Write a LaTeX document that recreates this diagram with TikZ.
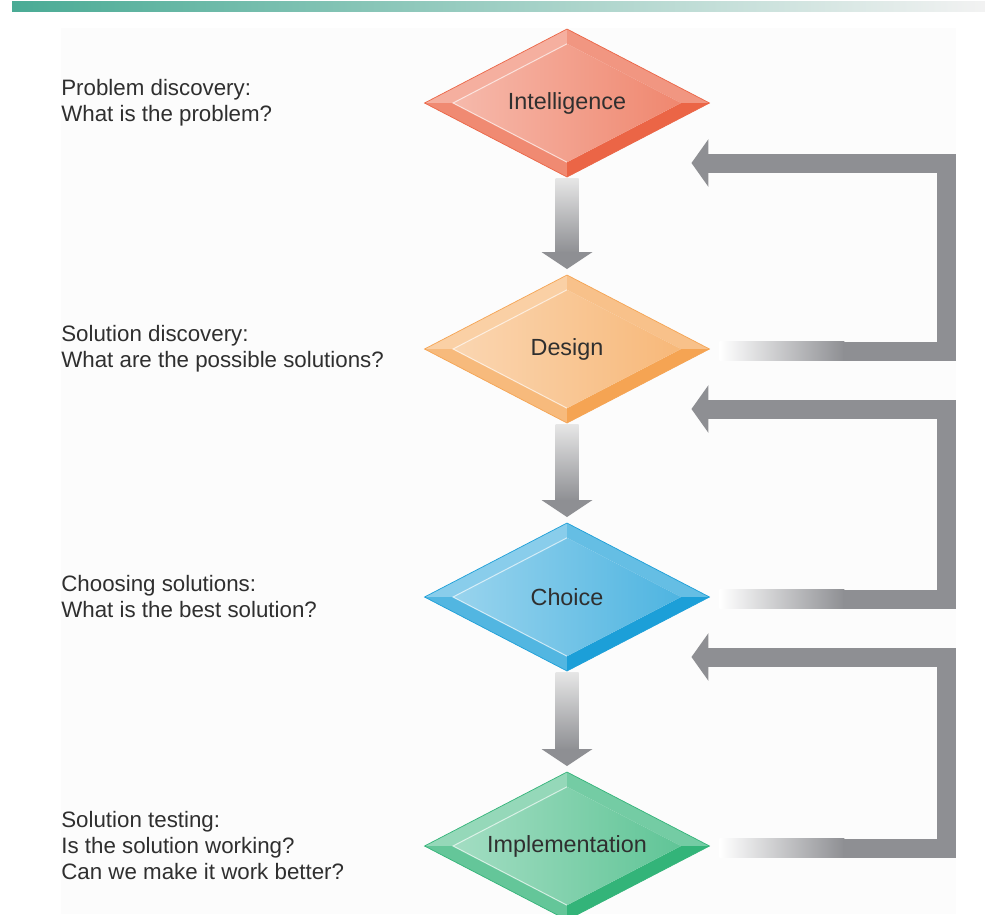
\documentclass[tikz,border=0pt]{standalone}
\usepackage{fontspec}
\setmainfont{Liberation Sans}
\usepackage{xcolor}
\usepackage{tikz}
\usetikzlibrary{positioning, shapes, calc, arrows.meta, backgrounds}

\definecolor{intelred}{HTML}{EB6546}
\definecolor{designorange}{HTML}{F5A453}
\definecolor{choiceblue}{HTML}{1C9FD8}
\definecolor{implgreen}{HTML}{33B479}
\definecolor{flowgray}{HTML}{8E8F93}
\definecolor{bargreen}{HTML}{4AAB95}
\definecolor{textgray}{HTML}{2F2F2F}

\tikzset{
  phase/.style={diamond, shape aspect=1.9, minimum width=5.7cm, minimum height=2.96cm,
    inner sep=0pt, outer sep=0pt, line width=0.4pt, text=textgray,
    font=\fontsize{13.3pt}{16pt}\selectfont},
  note/.style={anchor=west, align=left, inner sep=0pt, text=textgray,
    font=\fontsize{12.7pt}{14.8pt}\selectfont},
  backline/.style={draw=flowgray, line width=0.38cm, line join=miter,
    -{Triangle[length=0.34cm, width=0.94cm]}}
}

\begin{document}
\begin{tikzpicture}[x=0.02cm, y=-0.02cm]
  \useasboundingbox (0,0) rectangle (985,914);

  % Page background and title bar
  \begin{scope}[on background layer]
    \fill[black!1] (61,28) rectangle (956,914);
    \shade[left color=bargreen, right color=black!5] (12,1) rectangle (985,11);
  \end{scope}

  % Phases with their questions
  \foreach \nm/\lbl/\cy/\base/\txt in {
      intel/Intelligence/103/intelred/{Problem discovery:\\What is the problem?},
      design/Design/349/designorange/{Solution discovery:\\What are the possible solutions?},
      choice/Choice/597/choiceblue/{Choosing solutions:\\What is the best solution?},
      impl/Implementation/846/implgreen/{Solution testing:\\Is the solution working?\\Can we make it work better?}} {
    \node[phase, draw=\base] (\nm) at (567,\cy) {\lbl};
    \node[note] (\nm-q) at (61,\cy) {\txt};

    % bevel
    \coordinate (\nm-n) at ($(\nm.center)!0.8!(\nm.north)$);
    \coordinate (\nm-e) at ($(\nm.center)!0.8!(\nm.east)$);
    \coordinate (\nm-s) at ($(\nm.center)!0.8!(\nm.south)$);
    \coordinate (\nm-w) at ($(\nm.center)!0.8!(\nm.west)$);
    \begin{scope}[on background layer]
      \fill[\base!52!white] (\nm.west) -- (\nm.north) -- (\nm-n) -- (\nm-w) -- cycle;
      \fill[\base!68!white] (\nm.north) -- (\nm.east) -- (\nm-e) -- (\nm-n) -- cycle;
      \fill[\base!76!white] (\nm.west) -- (\nm.south) -- (\nm-s) -- (\nm-w) -- cycle;
      \fill[\base] (\nm.south) -- (\nm.east) -- (\nm-e) -- (\nm-s) -- cycle;
      \shade[left color=\base!45!white, right color=\base!78!white]
        (\nm-n) -- (\nm-e) -- (\nm-s) -- (\nm-w) -- cycle;
      \draw[white, opacity=0.6, line width=0.6pt] (\nm-s) -- (\nm-w) -- (\nm-n);
    \end{scope}
  }

  % Downward flow
  \foreach \a/\b in {intel/design, design/choice, choice/impl} {
    \shade[top color=black!10, bottom color=flowgray]
      ($(\a.south)+(-11.5,2)$) rectangle ($(\b.north)+(11.5,-22)$);
    \fill[flowgray] ($(\b.north)+(-25.5,-23)$) -- ($(\b.north)+(25.5,-23)$)
      -- ($(\b.north)+(0,-6)$) -- cycle;
  }

  % Feedback loops
  \foreach \a/\b in {design/intel, choice/design, impl/choice} {
    \coordinate (\a-out) at ($(\a.east)+(10,2)$);
    \coordinate (\a-back) at ($(\b.east)+(-18,60)$);
    \shade[left color=white, right color=flowgray]
      ($(\a-out)+(0,-9.5)$) rectangle ($(\a-out)+(125,9.5)$);
    \draw[backline] ($(\a-out)+(124,0)$) -| ($(\a-back)+(255,0)$) -- (\a-back);
  }
\end{tikzpicture}
\end{document}
